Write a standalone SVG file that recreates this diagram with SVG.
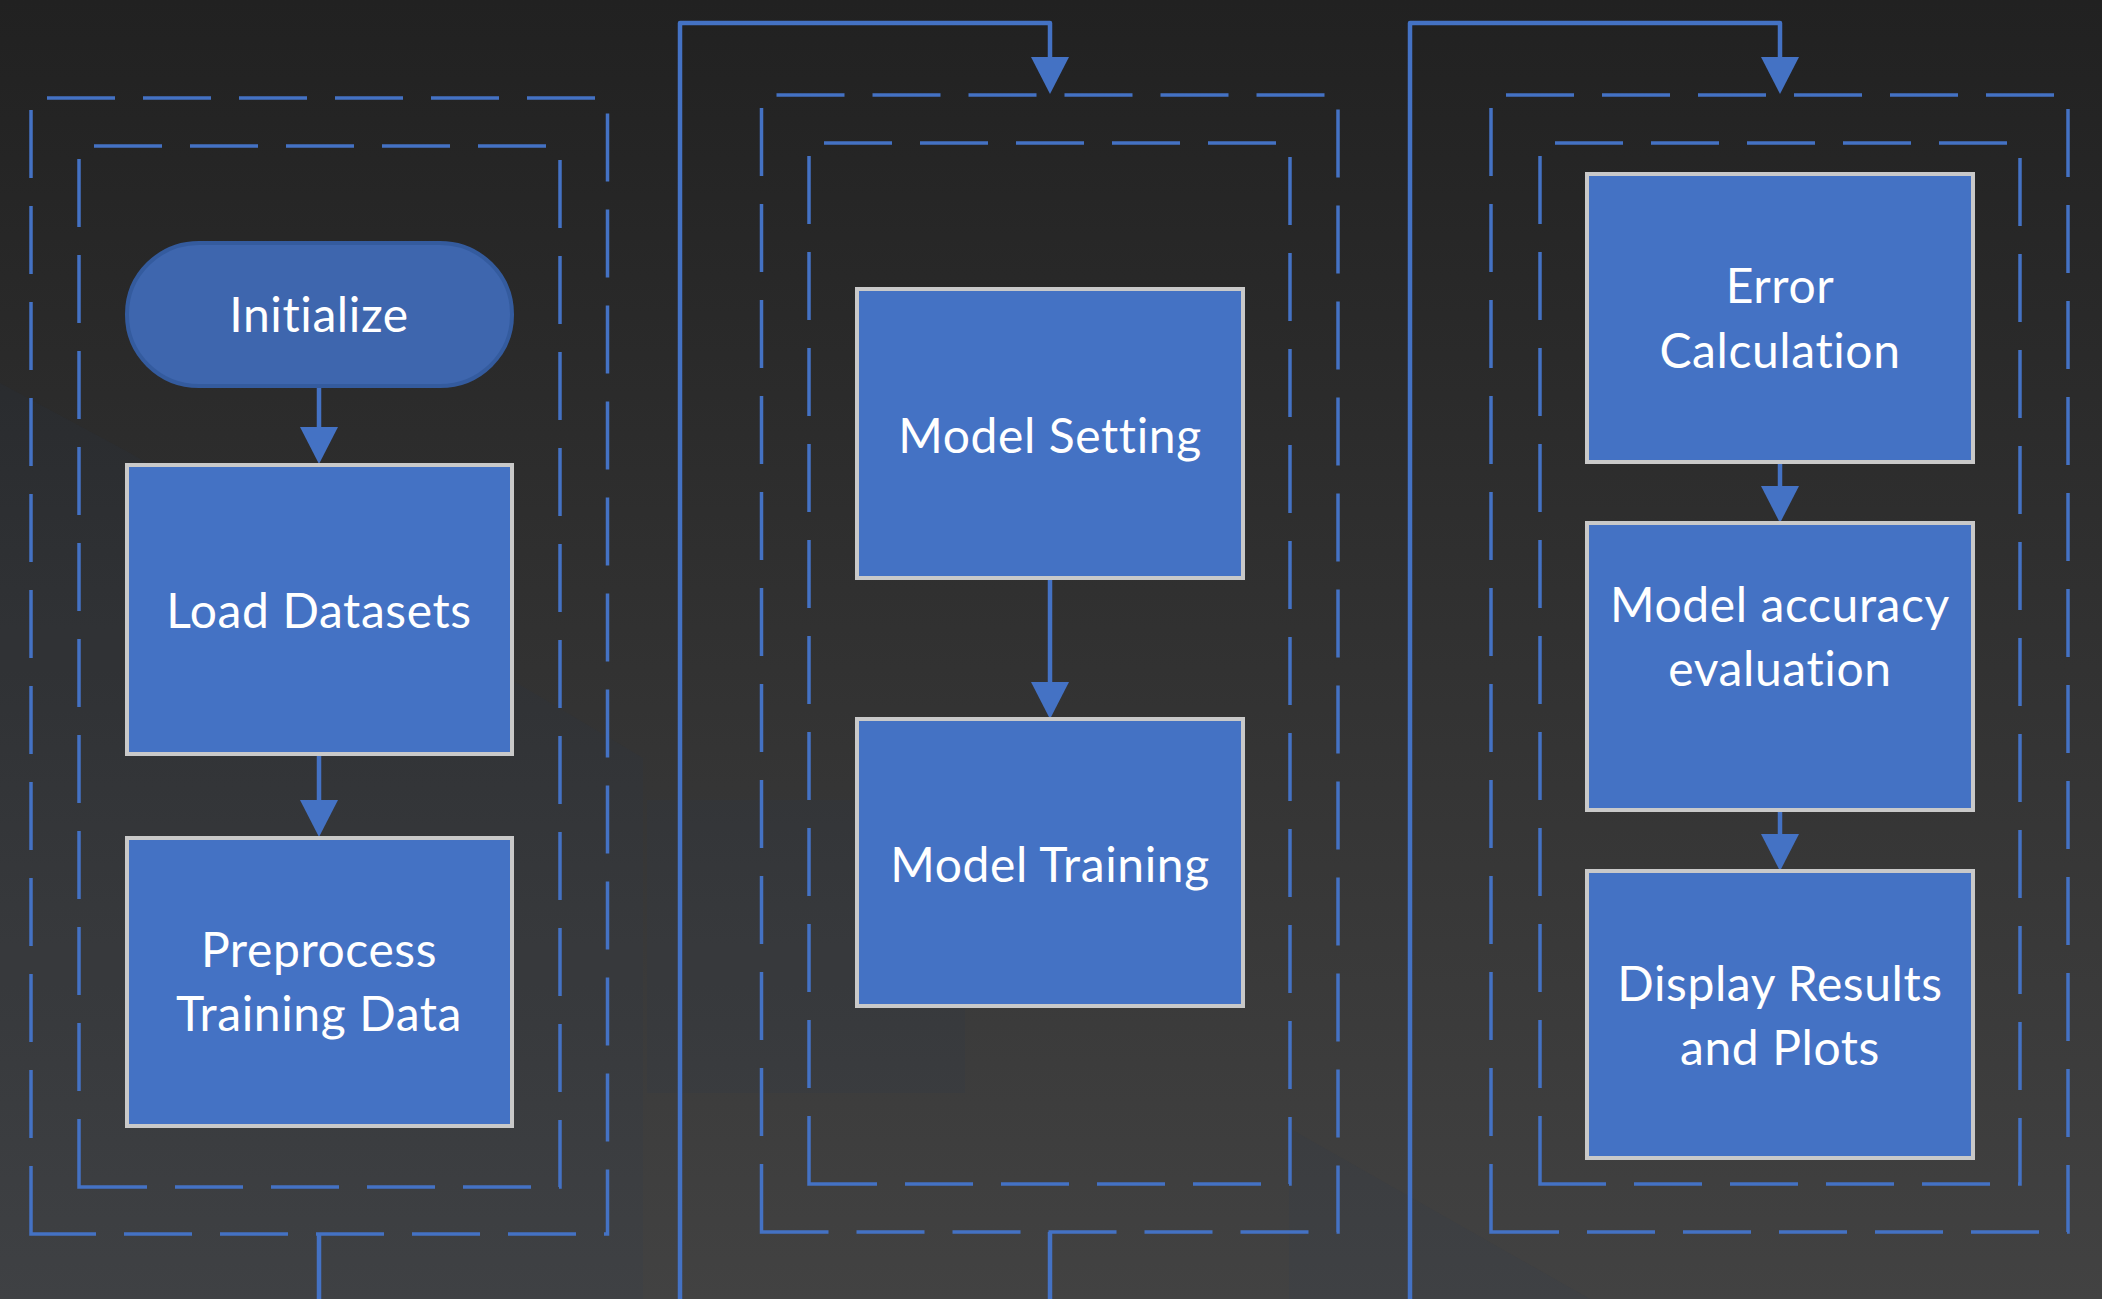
<svg xmlns="http://www.w3.org/2000/svg" width="2102" height="1299" viewBox="0 0 2102 1299">
<defs>
<linearGradient id="bg" x1="0" y1="0" x2="0" y2="1">
<stop offset="0" stop-color="#212121"/>
<stop offset="1" stop-color="#424242"/>
</linearGradient>
<marker id="arr" markerUnits="userSpaceOnUse" markerWidth="38" markerHeight="38" viewBox="0 0 37 38" refX="29" refY="19" orient="auto">
<path d="M0,0 L37,19 L0,38 Z" fill="#4472C4"/>
</marker>
<style>
.facet{fill:#2c3650;opacity:0.12}
.dash{fill:none;stroke:#4472C4;stroke-width:3.5;stroke-dasharray:68 28}
.box{fill:#4472C4;stroke:#C9C9C9;stroke-width:4}
.term{fill:#3E66AE;stroke:#345B9E;stroke-width:4}
.con{fill:none;stroke:#4472C4;stroke-width:4.5;stroke-linejoin:round}
.lbl{font-family:Lato,"Open Sans","Liberation Sans",sans-serif;font-size:48px;fill:#FFFFFF;text-anchor:middle;letter-spacing:0.6px}
</style>
</defs>
<rect x="0" y="0" width="2102" height="1299" fill="url(#bg)"/>
<g id="background-facets">
<polygon class="facet" points="0,383 130,453 643,758 643,1299 0,1299"/>
<polygon class="facet" points="647,800 965,800 965,1093 647,1093"/>
<polygon class="facet" points="1289,1128 1590,1299 1289,1299"/>
</g>

<g id="containers">
<path class="dash" d="M31,1234 V98 H607.5 V1234 Z"/>
<path class="dash" d="M79,1187 V146 H560 V1187 Z"/>
<path class="dash" d="M761.5,1232 V95 H1338 V1232 Z"/>
<path class="dash" d="M809,1184 V143 H1290 V1184 Z"/>
<path class="dash" d="M1491,1232 V95 H2068 V1232 Z"/>
<path class="dash" d="M1540,1184 V143 H2020 V1184 Z"/>
</g>

<g id="connectors">
<path class="con" d="M319,1234 V1330 H680 V23 H1050 V86" marker-end="url(#arr)"/>
<path class="con" d="M1050,1232 V1330 H1410 V23 H1780 V86" marker-end="url(#arr)"/>
<path class="con" d="M319,386 V456" marker-end="url(#arr)"/>
<path class="con" d="M319,754 V829" marker-end="url(#arr)"/>
<path class="con" d="M1050,578 V711" marker-end="url(#arr)"/>
<path class="con" d="M1780,462 V515" marker-end="url(#arr)"/>
<path class="con" d="M1780,810 V863" marker-end="url(#arr)"/>
</g>

<g id="initialize">
<rect class="term" x="127" y="243" width="385" height="143" rx="72" ry="71"/>
<text class="lbl" x="319" y="332">Initialize</text>
</g>
<g id="load-datasets">
<rect class="box" x="127" y="465" width="385" height="289"/>
<text class="lbl" x="319" y="628">Load Datasets</text>
</g>
<g id="preprocess">
<rect class="box" x="127" y="838" width="385" height="288"/>
<text class="lbl" x="319" y="967">Preprocess</text>
<text class="lbl" x="319" y="1031">Training Data</text>
</g>
<g id="model-setting">
<rect class="box" x="857" y="289" width="386" height="289"/>
<text class="lbl" x="1050" y="453">Model Setting</text>
</g>
<g id="model-training">
<rect class="box" x="857" y="719" width="386" height="287"/>
<text class="lbl" x="1050" y="882">Model Training</text>
</g>
<g id="error-calculation">
<rect class="box" x="1587" y="174" width="386" height="288"/>
<text class="lbl" x="1780" y="303">Error</text>
<text class="lbl" x="1780" y="368">Calculation</text>
</g>
<g id="model-accuracy">
<rect class="box" x="1587" y="523" width="386" height="287"/>
<text class="lbl" x="1780" y="622">Model accuracy</text>
<text class="lbl" x="1780" y="686">evaluation</text>
</g>
<g id="display-results">
<rect class="box" x="1587" y="871" width="386" height="287"/>
<text class="lbl" x="1780" y="1001">Display Results</text>
<text class="lbl" x="1780" y="1065">and Plots</text>
</g>
</svg>
